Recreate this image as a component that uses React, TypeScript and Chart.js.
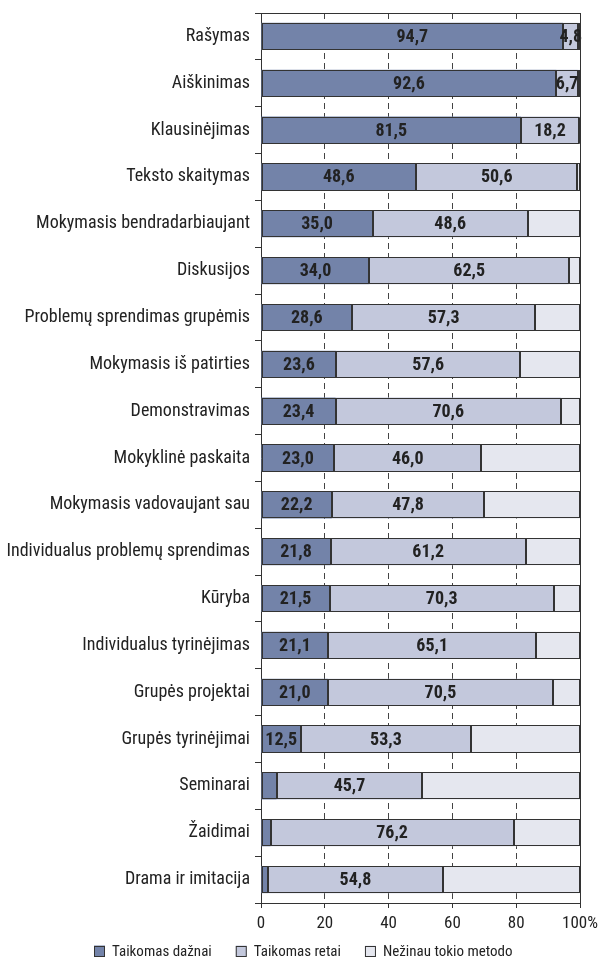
import React, { useEffect, useRef } from 'react';
import { Chart, registerables } from 'chart.js';
Chart.register(...registerables);

const categories = [
  'Rašymas',
  'Aiškinimas',
  'Klausinėjimas',
  'Teksto skaitymas',
  'Mokymasis bendradarbiaujant',
  'Diskusijos',
  'Problemų sprendimas grupėmis',
  'Mokymasis iš patirties',
  'Demonstravimas',
  'Mokyklinė paskaita',
  'Mokymasis vadovaujant sau',
  'Individualus problemų sprendimas',
  'Kūryba',
  'Individualus tyrinėjimas',
  'Grupės projektai',
  'Grupės tyrinėjimai',
  'Seminarai',
  'Žaidimai',
  'Drama ir imitacija',
];

const seriesNames = ['Taikomas dažnai', 'Taikomas retai', 'Nežinau tokio metodo'];

const often = [94.7, 92.6, 81.5, 48.6, 35.0, 34.0, 28.6, 23.6, 23.4, 23.0, 22.2, 21.8, 21.5, 21.1, 21.0, 12.5, 4.9, 3.0, 2.2];
const rarely = [4.8, 6.7, 18.2, 50.6, 48.6, 62.5, 57.3, 57.6, 70.6, 46.0, 47.8, 61.2, 70.3, 65.1, 70.5, 53.3, 45.7, 76.2, 54.8];
const unknown = [0.5, 0.7, 0.3, 0.8, 16.4, 3.5, 14.1, 18.8, 6.0, 31.0, 30.0, 17.0, 8.2, 13.8, 8.5, 34.2, 49.4, 20.8, 43.0];

const xTicks = [0, 20, 40, 60, 80, 100];

const FONT = "'Liberation Sans Narrow', 'Roboto Condensed', 'DejaVu Sans Condensed', 'Liberation Sans', sans-serif";
const colors = ['#7383a9', '#c3c8dc', '#e5e7ef'];
const LINE = '#333333';

const fmt = (v: number) => v.toFixed(1).replace('.', ',');

const barOutlines = {
  id: 'barOutlines',
  afterDatasetsDraw(chart: any) {
    const ctx = chart.ctx;
    ctx.save();
    ctx.strokeStyle = LINE;
    ctx.lineWidth = 1;
    chart.data.datasets.forEach((_: any, di: number) => {
      const meta = chart.getDatasetMeta(di);
      meta.data.forEach((el: any) => {
        const x0 = Math.round(Math.min(el.base, el.x)) + 0.5;
        const x1 = Math.round(Math.max(el.base, el.x)) - 0.5;
        const y0 = Math.round(el.y - el.height / 2) + 0.5;
        const y1 = Math.round(el.y + el.height / 2) - 0.5;
        ctx.strokeRect(x0, y0, Math.max(0, x1 - x0), y1 - y0);
      });
    });
    ctx.restore();
  },
};

const valueLabels = {
  id: 'valueLabels',
  afterDatasetsDraw(chart: any) {
    const ctx = chart.ctx;
    ctx.save();
    ctx.font = `bold 18px ${FONT}`;
    ctx.fillStyle = '#222';
    ctx.textAlign = 'center';
    ctx.textBaseline = 'middle';
    [0, 1].forEach((di) => {
      const meta = chart.getDatasetMeta(di);
      const data = chart.data.datasets[di].data as number[];
      meta.data.forEach((el: any, i: number) => {
        const v = data[i];
        if (di === 0 && v < 10) return;
        const cx = (el.x + el.base) / 2;
        ctx.fillText(fmt(v), cx, el.y + 1);
      });
    });
    ctx.restore();
  },
};

const frame = {
  id: 'frame',
  afterDatasetsDraw(chart: any) {
    const { ctx, chartArea } = chart;
    ctx.save();
    ctx.strokeStyle = LINE;
    ctx.lineWidth = 1;
    ctx.beginPath();
    ctx.moveTo(chartArea.left, Math.round(chartArea.top) + 0.5);
    ctx.lineTo(chartArea.right, Math.round(chartArea.top) + 0.5);
    ctx.moveTo(Math.round(chartArea.right) + 0.5, chartArea.top);
    ctx.lineTo(Math.round(chartArea.right) + 0.5, chartArea.bottom);
    ctx.stroke();
    ctx.restore();
  },
};

const customLegend = {
  id: 'customLegend',
  afterDraw(chart: any) {
    const ctx = chart.ctx;
    ctx.save();
    ctx.font = `15px ${FONT}`;
    const box = 11;
    const gapBoxText = 7;
    const gapItems = 24;
    const items = chart.data.datasets.map((d: any) => ({
      label: d.label,
      color: d.backgroundColor,
      w: ctx.measureText(d.label).width,
    }));
    const total = items.reduce((s: number, it: any) => s + box + gapBoxText + it.w, 0) + gapItems * (items.length - 1);
    let x = Math.round(chart.width / 2 - total / 2 + 4);
    const y = 951;
    ctx.textBaseline = 'middle';
    ctx.textAlign = 'left';
    items.forEach((it: any) => {
      ctx.fillStyle = it.color;
      ctx.fillRect(x, y - box / 2, box, box);
      ctx.strokeStyle = LINE;
      ctx.lineWidth = 1;
      ctx.strokeRect(x + 0.5, Math.round(y - box / 2) + 0.5, box - 1, box - 1);
      ctx.fillStyle = '#222';
      ctx.fillText(it.label, x + box + gapBoxText, y + 1);
      x += box + gapBoxText + it.w + gapItems;
    });
    ctx.restore();
  },
};

export default function App() {
  const ref = useRef<HTMLCanvasElement>(null);
  useEffect(() => {
    document.body.style.margin = '0';
    const chart = new Chart(ref.current!, {
      type: 'bar',
      data: {
        labels: categories,
        datasets: [often, rarely, unknown].map((d, i) => ({
          label: seriesNames[i],
          data: d,
          backgroundColor: colors[i],
          borderWidth: 0,
          barPercentage: 0.58,
          categoryPercentage: 1,
        })),
      },
      options: {
        indexAxis: 'y',
        responsive: false,
        animation: false,
        layout: { padding: { top: 13, right: 18, bottom: 33, left: 0 } },
        plugins: {
          tooltip: { enabled: false },
          legend: { display: false },
        },
        scales: {
          x: {
            stacked: true,
            min: 0,
            max: 100,
            afterBuildTicks: (s: any) => {
              s.ticks = xTicks.map((v) => ({ value: v }));
            },
            afterFit: (s: any) => {
              s.height = 34;
              s.paddingLeft = 0;
              s.paddingRight = 0;
            },
            ticks: {
              color: '#222',
              font: { family: FONT, size: 17 },
              padding: 6,
              callback: (v: any) => (v === 100 ? '100%' : String(v)),
            },
            grid: {
              color: (c: any) => (c.tick && (c.tick.value === 0 || c.tick.value === 100) ? 'rgba(0,0,0,0)' : '#444'),
              tickColor: LINE,
              tickLength: 5,
              lineWidth: 1,
            },
            border: { display: true, color: LINE, width: 1, dash: [6, 4] },
          },
          y: {
            stacked: true,
            afterFit: (s: any) => {
              s.width = 261;
              s.paddingTop = 0;
              s.paddingBottom = 0;
            },
            ticks: {
              color: '#222',
              font: { family: FONT, size: 18 },
              padding: 5,
            },
            grid: {
              offset: true,
              drawOnChartArea: false,
              drawTicks: true,
              tickLength: 6,
              tickColor: LINE,
              color: LINE,
            },
            border: { display: true, color: LINE, width: 1 },
          },
        },
      },
      plugins: [barOutlines, valueLabels, frame, customLegend],
    } as any);
    return () => chart.destroy();
  }, []);
  return <canvas ref={ref} width={598} height={970} style={{ display: 'block' }} />;
}
